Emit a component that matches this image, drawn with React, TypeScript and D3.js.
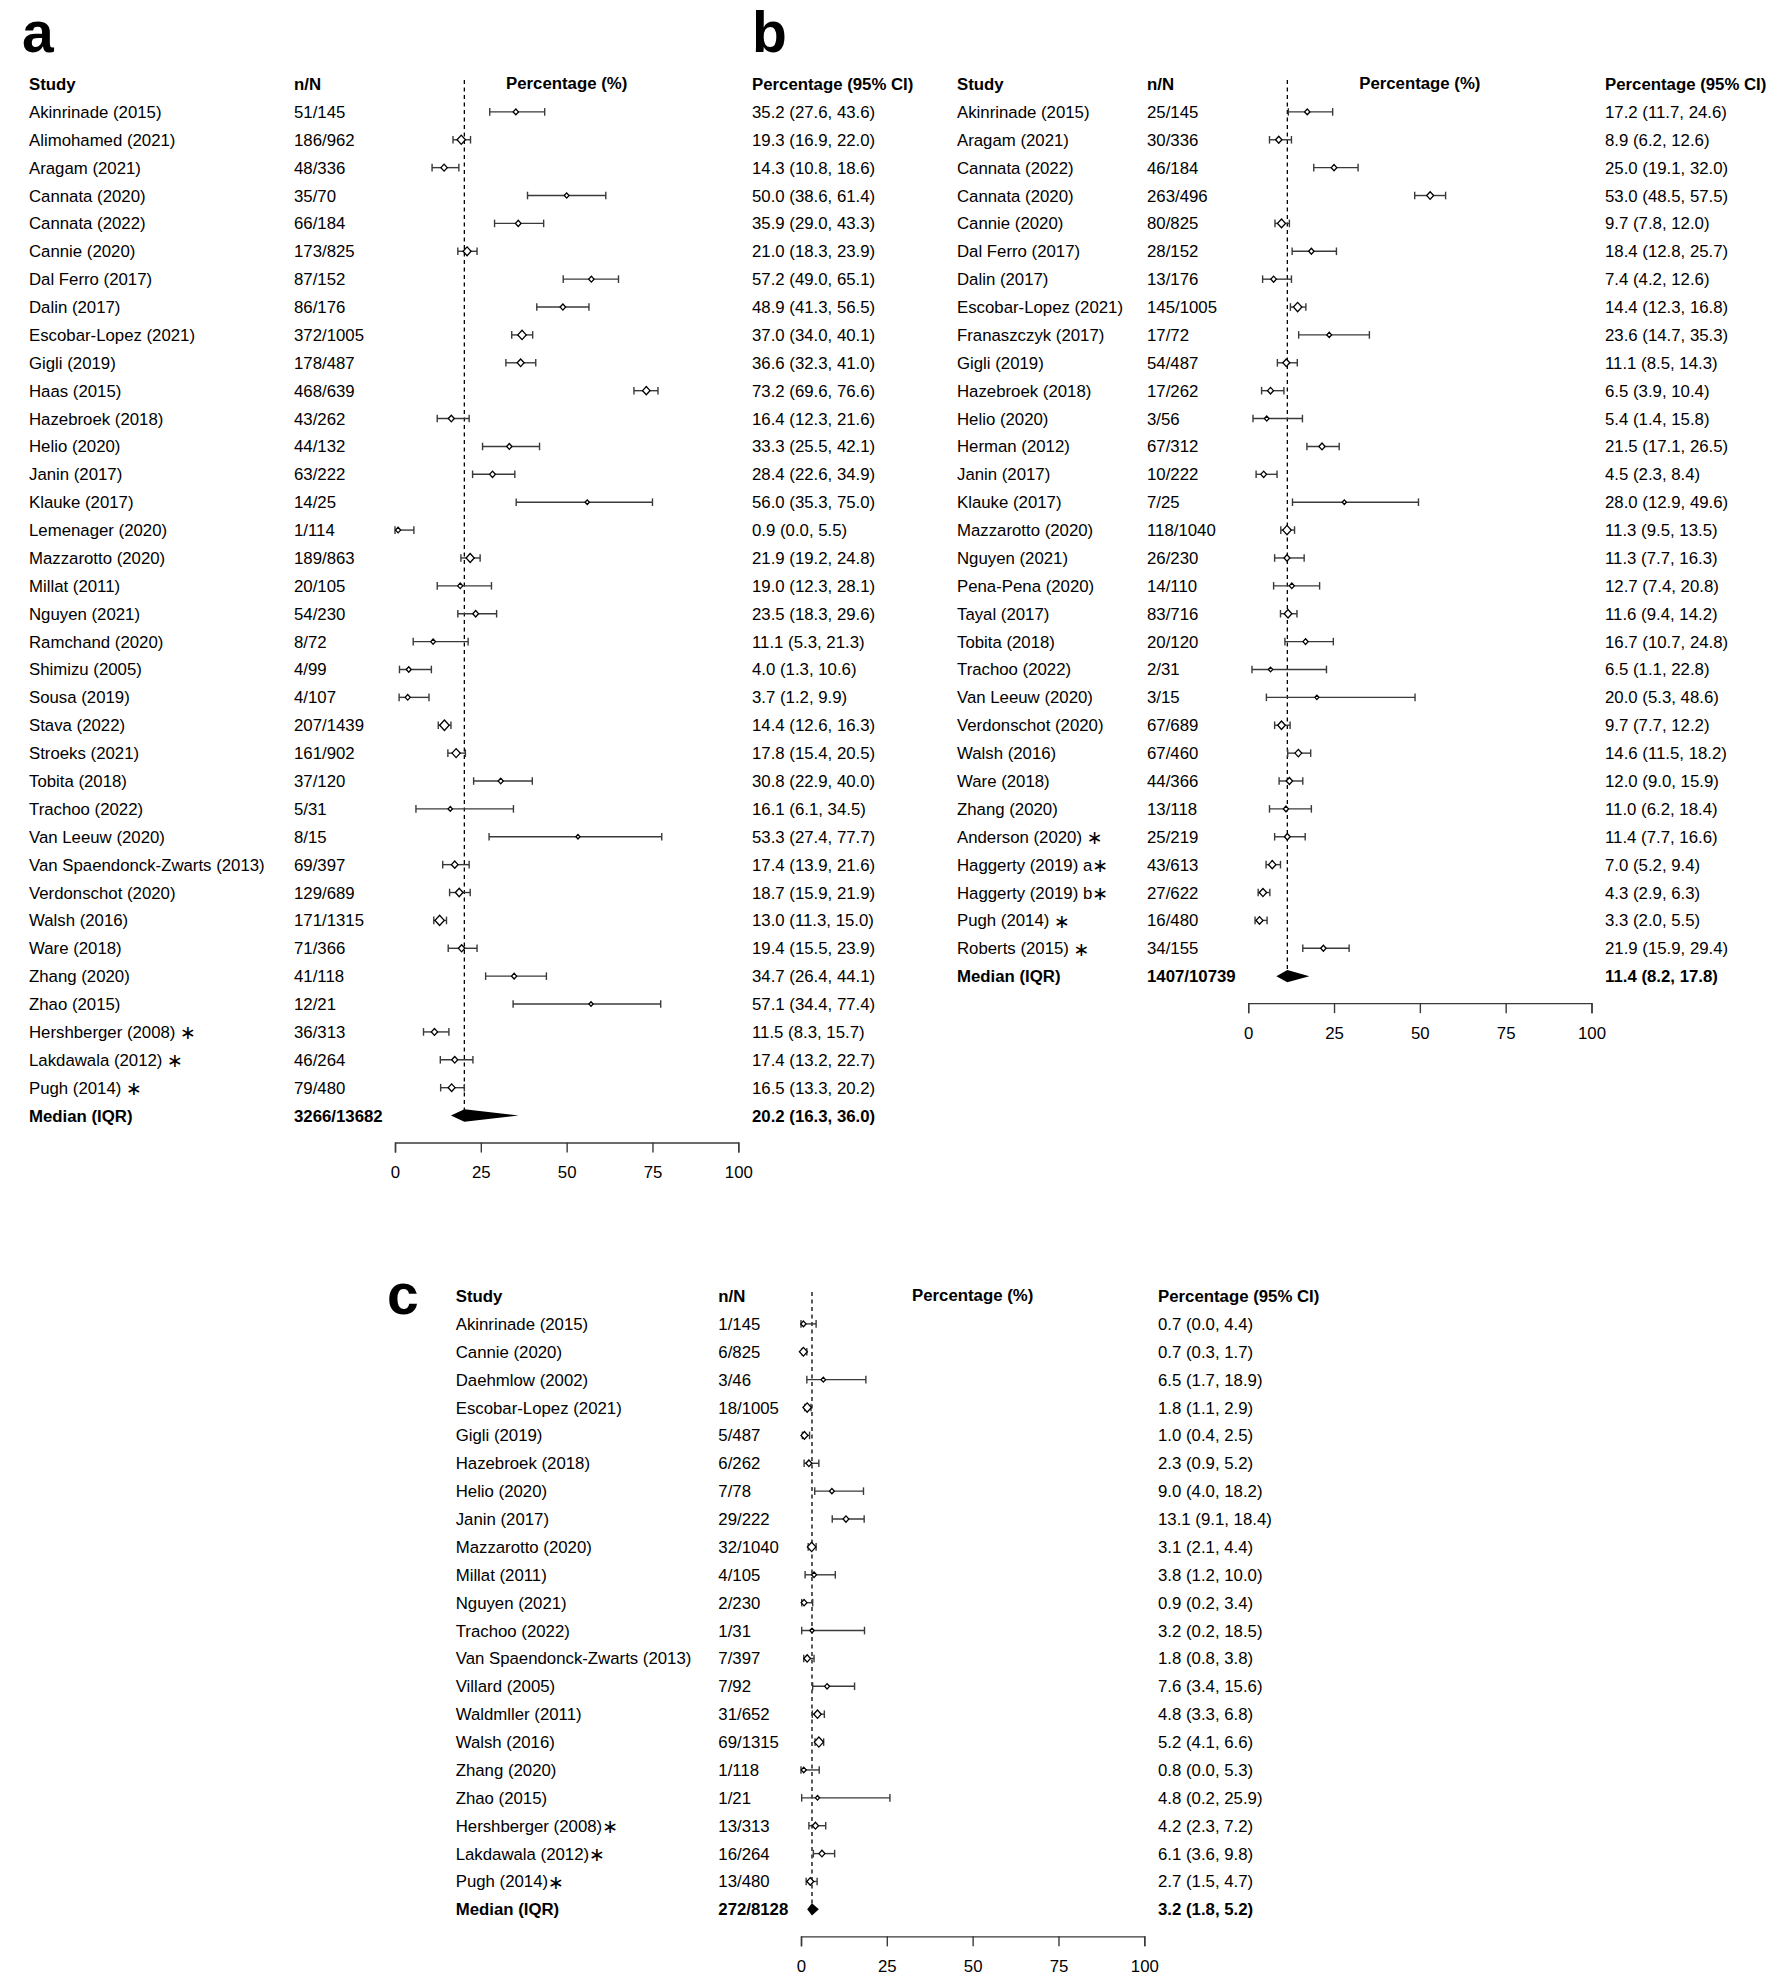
import * as d3 from "d3";
import { useEffect, useRef } from "react";

// ---- panel a ----
const studiesA = [
  "Akinrinade (2015)", "Alimohamed (2021)", "Aragam (2021)", "Cannata (2020)", "Cannata (2022)",
  "Cannie (2020)", "Dal Ferro (2017)", "Dalin (2017)", "Escobar-Lopez (2021)", "Gigli (2019)",
  "Haas (2015)", "Hazebroek (2018)", "Helio (2020)", "Janin (2017)", "Klauke (2017)",
  "Lemenager (2020)", "Mazzarotto (2020)", "Millat (2011)", "Nguyen (2021)", "Ramchand (2020)",
  "Shimizu (2005)", "Sousa (2019)", "Stava (2022)", "Stroeks (2021)", "Tobita (2018)",
  "Trachoo (2022)", "Van Leeuw (2020)", "Van Spaendonck-Zwarts (2013)", "Verdonschot (2020)", "Walsh (2016)",
  "Ware (2018)", "Zhang (2020)", "Zhao (2015)", "Hershberger (2008) *", "Lakdawala (2012) *",
  "Pugh (2014) *",
];
const countsA = [
  "51/145", "186/962", "48/336", "35/70", "66/184", "173/825", "87/152", "86/176", "372/1005", "178/487",
  "468/639", "43/262", "44/132", "63/222", "14/25", "1/114", "189/863", "20/105", "54/230", "8/72",
  "4/99", "4/107", "207/1439", "161/902", "37/120", "5/31", "8/15", "69/397", "129/689", "171/1315",
  "71/366", "41/118", "12/21", "36/313", "46/264", "79/480",
];
const estA = [35.2, 19.3, 14.3, 50.0, 35.9, 21.0, 57.2, 48.9, 37.0, 36.6, 73.2, 16.4, 33.3, 28.4, 56.0, 0.9, 21.9, 19.0, 23.5, 11.1, 4.0, 3.7, 14.4, 17.8, 30.8, 16.1, 53.3, 17.4, 18.7, 13.0, 19.4, 34.7, 57.1, 11.5, 17.4, 16.5];
const lowA = [27.6, 16.9, 10.8, 38.6, 29.0, 18.3, 49.0, 41.3, 34.0, 32.3, 69.6, 12.3, 25.5, 22.6, 35.3, 0.0, 19.2, 12.3, 18.3, 5.3, 1.3, 1.2, 12.6, 15.4, 22.9, 6.1, 27.4, 13.9, 15.9, 11.3, 15.5, 26.4, 34.4, 8.3, 13.2, 13.3];
const highA = [43.6, 22.0, 18.6, 61.4, 43.3, 23.9, 65.1, 56.5, 40.1, 41.0, 76.6, 21.6, 42.1, 34.9, 75.0, 5.5, 24.8, 28.1, 29.6, 21.3, 10.6, 9.9, 16.3, 20.5, 40.0, 34.5, 77.7, 21.6, 21.9, 15.0, 23.9, 44.1, 77.4, 15.7, 22.7, 20.2];
const medianCountA = "3266/13682";
const medianA = [20.2, 16.3, 36.0];

// ---- panel b ----
const studiesB = [
  "Akinrinade (2015)", "Aragam (2021)", "Cannata (2022)", "Cannata (2020)", "Cannie (2020)",
  "Dal Ferro (2017)", "Dalin (2017)", "Escobar-Lopez (2021)", "Franaszczyk (2017)", "Gigli (2019)",
  "Hazebroek (2018)", "Helio (2020)", "Herman (2012)", "Janin (2017)", "Klauke (2017)",
  "Mazzarotto (2020)", "Nguyen (2021)", "Pena-Pena (2020)", "Tayal (2017)", "Tobita (2018)",
  "Trachoo (2022)", "Van Leeuw (2020)", "Verdonschot (2020)", "Walsh (2016)", "Ware (2018)",
  "Zhang (2020)", "Anderson (2020) *", "Haggerty (2019) a*", "Haggerty (2019) b*", "Pugh (2014) *",
  "Roberts (2015) *",
];
const countsB = [
  "25/145", "30/336", "46/184", "263/496", "80/825", "28/152", "13/176", "145/1005", "17/72", "54/487",
  "17/262", "3/56", "67/312", "10/222", "7/25", "118/1040", "26/230", "14/110", "83/716", "20/120",
  "2/31", "3/15", "67/689", "67/460", "44/366", "13/118", "25/219", "43/613", "27/622", "16/480",
  "34/155",
];
const estB = [17.2, 8.9, 25.0, 53.0, 9.7, 18.4, 7.4, 14.4, 23.6, 11.1, 6.5, 5.4, 21.5, 4.5, 28.0, 11.3, 11.3, 12.7, 11.6, 16.7, 6.5, 20.0, 9.7, 14.6, 12.0, 11.0, 11.4, 7.0, 4.3, 3.3, 21.9];
const lowB = [11.7, 6.2, 19.1, 48.5, 7.8, 12.8, 4.2, 12.3, 14.7, 8.5, 3.9, 1.4, 17.1, 2.3, 12.9, 9.5, 7.7, 7.4, 9.4, 10.7, 1.1, 5.3, 7.7, 11.5, 9.0, 6.2, 7.7, 5.2, 2.9, 2.0, 15.9];
const highB = [24.6, 12.6, 32.0, 57.5, 12.0, 25.7, 12.6, 16.8, 35.3, 14.3, 10.4, 15.8, 26.5, 8.4, 49.6, 13.5, 16.3, 20.8, 14.2, 24.8, 22.8, 48.6, 12.2, 18.2, 15.9, 18.4, 16.6, 9.4, 6.3, 5.5, 29.4];
const medianCountB = "1407/10739";
const medianB = [11.4, 8.2, 17.8];

// ---- panel c ----
const studiesC = [
  "Akinrinade (2015)", "Cannie (2020)", "Daehmlow (2002)", "Escobar-Lopez (2021)", "Gigli (2019)",
  "Hazebroek (2018)", "Helio (2020)", "Janin (2017)", "Mazzarotto (2020)", "Millat (2011)",
  "Nguyen (2021)", "Trachoo (2022)", "Van Spaendonck-Zwarts (2013)", "Villard (2005)", "Waldmller (2011)",
  "Walsh (2016)", "Zhang (2020)", "Zhao (2015)", "Hershberger (2008)*", "Lakdawala (2012)*",
  "Pugh (2014)*",
];
const countsC = [
  "1/145", "6/825", "3/46", "18/1005", "5/487", "6/262", "7/78", "29/222", "32/1040", "4/105",
  "2/230", "1/31", "7/397", "7/92", "31/652", "69/1315", "1/118", "1/21", "13/313", "16/264",
  "13/480",
];
const estC = [0.7, 0.7, 6.5, 1.8, 1.0, 2.3, 9.0, 13.1, 3.1, 3.8, 0.9, 3.2, 1.8, 7.6, 4.8, 5.2, 0.8, 4.8, 4.2, 6.1, 2.7];
const lowC = [0.0, 0.3, 1.7, 1.1, 0.4, 0.9, 4.0, 9.1, 2.1, 1.2, 0.2, 0.2, 0.8, 3.4, 3.3, 4.1, 0.0, 0.2, 2.3, 3.6, 1.5];
const highC = [4.4, 1.7, 18.9, 2.9, 2.5, 5.2, 18.2, 18.4, 4.4, 10.0, 3.4, 18.5, 3.8, 15.6, 6.8, 6.6, 5.3, 25.9, 7.2, 9.8, 4.7];
const medianCountC = "272/8128";
const medianC = [3.2, 1.8, 5.2];

const ticks = [0, 25, 50, 75, 100];

const FONT = "'Liberation Sans', Arial, Helvetica, 'DejaVu Sans', sans-serif";
const FS = 16.8;
const ROW = 27.88;
const BAR = "#3a3a3a";

type Layout = {
  label: string; labelX: number; labelY: number; headerY: number;
  studyX: number; countX: number; x0: number; x1: number; ciX: number;
};

const fmt = (v: number) => v.toFixed(1);

function drawPanel(
  svg: d3.Selection<SVGSVGElement, unknown, null, undefined>,
  L: Layout,
  studies: string[], counts: string[], est: number[], low: number[], high: number[],
  medianCount: string, median: number[]
) {
  const n = studies.length;
  const g = svg.append("g").attr("font-family", FONT).attr("font-size", FS).attr("fill", "#000");
  const x = d3.scaleLinear().domain([0, 100]).range([L.x0, L.x1]);
  const y = d3.scaleLinear().domain([-1, n]).range([L.headerY, L.headerY + (n + 1) * ROW]);
  const base = (i: number) => y(i) + 6;

  const text = (tx: number, ty: number, s: string, bold = false, anchor = "start") =>
    g.append("text").attr("x", tx).attr("y", ty).attr("text-anchor", anchor)
      .attr("font-weight", bold ? "bold" : "normal").style("white-space", "pre").text(s);

  // panel letter
  g.append("text").attr("x", L.labelX).attr("y", L.labelY).attr("font-size", 57)
    .attr("font-weight", "bold").text(L.label);

  // headers
  text(L.studyX, base(-1), "Study", true);
  text(L.countX, base(-1), "n/N", true);
  text(x(50), base(-1) - 1, "Percentage (%)", true, "middle");
  text(L.ciX, base(-1), "Percentage (95% CI)", true);

  // reference line at the median
  g.append("line")
    .attr("x1", x(median[0])).attr("x2", x(median[0]))
    .attr("y1", y(-1) - 4).attr("y2", y(n) - 5)
    .attr("stroke", "#000").attr("stroke-width", 1.3).attr("stroke-dasharray", "4,3.5");

  // rows
  studies.forEach((s, i) => {
    const t = text(L.studyX, base(i), "");
    if (s.endsWith("*")) {
      t.append("tspan").text(s.slice(0, -1));
      t.append("tspan").attr("font-size", 19).attr("dy", 1.5).text("∗");
    } else {
      t.text(s);
    }
    text(L.countX, base(i), counts[i]);
    text(L.ciX, base(i), `${fmt(est[i])} (${fmt(low[i])}, ${fmt(high[i])})`);
  });

  const bars = g.append("g").attr("stroke", BAR).attr("stroke-width", 1.4).attr("fill", "none");
  studies.forEach((_, i) => {
    const yy = y(i);
    bars.append("line").attr("x1", x(low[i])).attr("x2", x(high[i])).attr("y1", yy).attr("y2", yy);
    [low[i], high[i]].forEach(v => {
      bars.append("line").attr("x1", x(v)).attr("x2", x(v)).attr("y1", yy - 3.8).attr("y2", yy + 3.8);
    });
  });

  studies.forEach((_, i) => {
    const N = +counts[i].split("/")[1];
    const r = 1.7 + 0.08 * Math.sqrt(N);
    const cx = x(est[i]);
    const cy = y(i);
    const p = d3.path();
    p.moveTo(cx - r, cy);
    p.lineTo(cx, cy - r * 1.1);
    p.lineTo(cx + r, cy);
    p.lineTo(cx, cy + r * 1.1);
    p.closePath();
    g.append("path").attr("d", p.toString()).attr("fill", "#fff").attr("stroke", "#000").attr("stroke-width", 1.3);
  });

  // median row
  const ym = y(n);
  text(L.studyX, ym + 6, "Median (IQR)", true);
  text(L.countX, ym + 6, medianCount, true);
  text(L.ciX, ym + 6, `${fmt(median[0])} (${fmt(median[1])}, ${fmt(median[2])})`, true);
  const dp = d3.path();
  dp.moveTo(x(median[1]), ym);
  dp.lineTo(x(median[0]), ym - 6.2);
  dp.lineTo(x(median[2]), ym);
  dp.lineTo(x(median[0]), ym + 6.2);
  dp.closePath();
  g.append("path").attr("d", dp.toString()).attr("fill", "#000");

  // axis
  const axis = d3.axisBottom(x).tickValues(ticks).tickSize(10).tickSizeOuter(10).tickPadding(14)
    .tickFormat(d => String(d));
  const ag = g.append("g").attr("transform", `translate(0,${ym + 27})`).call(axis);
  ag.attr("font-family", FONT).attr("font-size", FS);
  ag.selectAll("path, line").attr("stroke", BAR).attr("stroke-width", 1.4);
  ag.selectAll("text").attr("fill", "#000");
}

export default function App() {
  const ref = useRef<SVGSVGElement>(null);

  useEffect(() => {
    if (!ref.current) return;
    document.body.style.margin = "0";
    const svg = d3.select(ref.current);
    svg.selectAll("*").remove();
    svg.append("rect").attr("width", 1772).attr("height", 1988).attr("fill", "#fff");

    drawPanel(svg,
      { label: "a", labelX: 22, labelY: 52, headerY: 84, studyX: 29, countX: 294, x0: 395, x1: 738.3, ciX: 752 },
      studiesA, countsA, estA, lowA, highA, medianCountA, medianA);
    drawPanel(svg,
      { label: "b", labelX: 752, labelY: 52, headerY: 84, studyX: 957, countX: 1147, x0: 1248.2, x1: 1591.5, ciX: 1605 },
      studiesB, countsB, estB, lowB, highB, medianCountB, medianB);
    drawPanel(svg,
      { label: "c", labelX: 387, labelY: 1314, headerY: 1296, studyX: 455.7, countX: 718.3, x0: 801, x1: 1144.3, ciX: 1158 },
      studiesC, countsC, estC, lowC, highC, medianCountC, medianC);
  }, []);

  return <svg ref={ref} width={1772} height={1988} style={{ display: "block" }} />;
}
